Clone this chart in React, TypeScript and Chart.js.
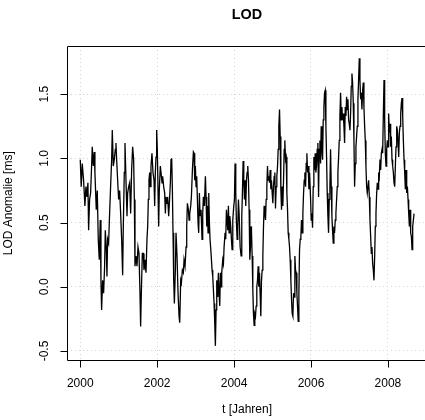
import React, { useEffect, useRef } from "react";
import { Chart, registerables } from "chart.js";

Chart.register(...registerables);

// ---- data ----
const years: number[] = [
  // 2000.0 - 2001.4
  2000.000, 2000.025, 2000.052, 2000.086, 2000.121, 2000.147, 2000.173, 2000.199, 2000.217, 2000.243,
  2000.269, 2000.295, 2000.312, 2000.338, 2000.364, 2000.381, 2000.416, 2000.442, 2000.468, 2000.494,
  2000.520, 2000.538, 2000.555, 2000.581, 2000.607, 2000.633, 2000.651, 2000.677, 2000.694, 2000.711,
  2000.737, 2000.763, 2000.789, 2000.816, 2000.833, 2000.859, 2000.885, 2000.911, 2000.928, 2000.946,
  2000.972, 2000.998, 2001.024, 2001.050, 2001.076, 2001.102, 2001.119, 2001.145, 2001.163, 2001.189,
  2001.215, 2001.232, 2001.258, 2001.284, 2001.310, 2001.336, 2001.362, 2001.388, 2001.406, 2001.423,
  // 2001.4 - 2002.9
  2001.449, 2001.475, 2001.501, 2001.527, 2001.553, 2001.570, 2001.588, 2001.614, 2001.640, 2001.657,
  2001.683, 2001.709, 2001.735, 2001.753, 2001.770, 2001.787, 2001.805, 2001.822, 2001.839, 2001.865,
  2001.891, 2001.918, 2001.935, 2001.952, 2001.970, 2001.987, 2002.004, 2002.022, 2002.039, 2002.056,
  2002.082, 2002.100, 2002.126, 2002.143, 2002.169, 2002.195, 2002.213, 2002.230, 2002.256, 2002.273,
  2002.299, 2002.317, 2002.343, 2002.360, 2002.378, 2002.395, 2002.412, 2002.430, 2002.447, 2002.473,
  2002.490, 2002.516, 2002.543, 2002.569, 2002.586, 2002.612, 2002.629, 2002.655, 2002.681, 2002.699,
  2002.725, 2002.751, 2002.768, 2002.786, 2002.812, 2002.829, 2002.846, 2002.872, 2002.890, 2002.916,
  2002.942,
  // 2002.9 - 2004.4
  2002.959, 2002.976, 2002.993, 2003.011, 2003.028, 2003.046, 2003.063, 2003.080, 2003.098, 2003.115,
  2003.141, 2003.167, 2003.184, 2003.202, 2003.228, 2003.254, 2003.271, 2003.289, 2003.306, 2003.323,
  2003.341, 2003.358, 2003.375, 2003.401, 2003.428, 2003.445, 2003.462, 2003.480, 2003.497, 2003.514,
  2003.532, 2003.549, 2003.575, 2003.592, 2003.610, 2003.627, 2003.645, 2003.662, 2003.679, 2003.705,
  2003.723, 2003.740, 2003.766, 2003.783, 2003.801, 2003.818, 2003.836, 2003.853, 2003.870, 2003.888,
  2003.914, 2003.931, 2003.948, 2003.966, 2003.992, 2004.009, 2004.026, 2004.044, 2004.061, 2004.079,
  2004.096, 2004.113, 2004.131, 2004.157, 2004.183, 2004.200, 2004.217, 2004.235, 2004.252, 2004.270,
  2004.287, 2004.304, 2004.322, 2004.339, 2004.356, 2004.374, 2004.391, 2004.409, 2004.426, 2004.443,
  // 2004.4 - 2006.0
  2004.452, 2004.470, 2004.487, 2004.504, 2004.522, 2004.539, 2004.557, 2004.574, 2004.591, 2004.609,
  2004.626, 2004.643, 2004.661, 2004.678, 2004.695, 2004.713, 2004.730, 2004.748, 2004.765, 2004.782,
  2004.800, 2004.817, 2004.834, 2004.852, 2004.869, 2004.886, 2004.904, 2004.921, 2004.939, 2004.956,
  2004.973, 2004.991, 2005.008, 2005.025, 2005.043, 2005.060, 2005.077, 2005.095, 2005.112, 2005.130,
  2005.147, 2005.164, 2005.182, 2005.199, 2005.216, 2005.234, 2005.251, 2005.268, 2005.286, 2005.303,
  2005.320, 2005.338, 2005.355, 2005.373, 2005.390, 2005.407, 2005.425, 2005.442, 2005.459, 2005.477,
  2005.494, 2005.511, 2005.529, 2005.546, 2005.563, 2005.581, 2005.598, 2005.616, 2005.633, 2005.650,
  2005.668, 2005.685, 2005.702, 2005.720, 2005.737, 2005.754, 2005.772, 2005.789, 2005.807, 2005.824,
  2005.841, 2005.859, 2005.876, 2005.893, 2005.911, 2005.928, 2005.946, 2005.963,
  // 2006.0 - 2007.5
  2005.971, 2005.988, 2006.006, 2006.023, 2006.041, 2006.058, 2006.075, 2006.093, 2006.110, 2006.127,
  2006.145, 2006.162, 2006.179, 2006.197, 2006.214, 2006.232, 2006.249, 2006.266, 2006.284, 2006.301,
  2006.318, 2006.336, 2006.353, 2006.370, 2006.388, 2006.405, 2006.422, 2006.440, 2006.457, 2006.475,
  2006.492, 2006.509, 2006.527, 2006.544, 2006.561, 2006.579, 2006.596, 2006.613, 2006.631, 2006.648,
  2006.666, 2006.683, 2006.700, 2006.718, 2006.735, 2006.752, 2006.770, 2006.787, 2006.804, 2006.822,
  2006.839, 2006.857, 2006.874, 2006.891, 2006.909, 2006.926, 2006.943, 2006.961, 2006.978, 2006.995,
  2007.013, 2007.030, 2007.047, 2007.065, 2007.082, 2007.100, 2007.117, 2007.134, 2007.152, 2007.169,
  2007.186, 2007.204, 2007.221, 2007.238, 2007.256, 2007.273, 2007.291, 2007.308, 2007.325, 2007.343,
  2007.360, 2007.377, 2007.395, 2007.412, 2007.429, 2007.447, 2007.464,
  // 2007.5 - 2008.7
  2007.482, 2007.499, 2007.517, 2007.534, 2007.552, 2007.569, 2007.586, 2007.604, 2007.621, 2007.638,
  2007.656, 2007.673, 2007.690, 2007.708, 2007.725, 2007.743, 2007.760, 2007.777, 2007.795, 2007.812,
  2007.829, 2007.847, 2007.864, 2007.881, 2007.899, 2007.916, 2007.933, 2007.951, 2007.968, 2007.986,
  2008.003, 2008.020, 2008.038, 2008.055, 2008.072, 2008.090, 2008.107, 2008.124, 2008.142, 2008.159,
  2008.177, 2008.194, 2008.211, 2008.229, 2008.246, 2008.263, 2008.281, 2008.298, 2008.315, 2008.333,
  2008.350, 2008.367, 2008.385, 2008.402, 2008.420, 2008.437, 2008.454, 2008.472, 2008.489, 2008.507,
  2008.524, 2008.541, 2008.559, 2008.576, 2008.593, 2008.611, 2008.628, 2008.645, 2008.663, 2008.680,
];

const lod: number[] = [
  // 2000.0 - 2001.4
  0.99, 0.78, 0.96, 0.83, 0.63, 0.78, 0.70, 0.81, 0.44, 0.68,
  0.73, 0.94, 1.09, 0.94, 1.05, 0.89, 0.60, 0.75, 0.37, 0.21,
  0.52, 0.05, -0.18, 0.05, -0.05, 0.16, 0.44, 0.29, 0.08, 0.37,
  0.34, 0.57, 0.78, 0.99, 1.22, 0.94, 0.99, 1.07, 1.12, 0.99,
  0.83, 0.68, 0.75, 0.57, 0.37, 0.09, 0.47, 0.89, 1.12, 0.83,
  0.55, 0.73, 0.78, 0.81, 0.57, 0.91, 1.09, 0.99, 0.68, 0.16,
  // 2001.4 - 2002.9
  0.24, 0.16, 0.31, 0.26, -0.05, -0.31, -0.05, 0.26, 0.26, 0.13,
  0.21, 0.11, 0.37, 0.47, 0.68, 0.83, 0.89, 0.78, 0.94, 1.04,
  0.89, 0.83, 0.63, 0.89, 1.01, 1.22, 1.07, 0.76, 0.47, 0.76,
  0.94, 0.89, 0.81, 0.86, 0.78, 0.73, 0.57, 0.70, 0.65, 0.70,
  0.55, 0.65, 0.81, 0.99, 1.00, 0.76, 0.42, 0.05, -0.13, 0.13,
  0.42, 0.24, -0.05, -0.23, -0.28, 0.05, 0.03, 0.13, 0.11, 0.21,
  0.16, 0.31, 0.47, 0.65, 0.60, 0.52, 0.57, 0.63, 0.70, 0.91,
  1.05,
  // 2002.9 - 2004.4
  1.04, 0.83, 0.94, 0.78, 0.86, 0.68, 0.50, 0.42, 0.73, 0.55,
  0.60, 0.37, 0.57, 0.70, 0.63, 0.86, 0.70, 0.47, 0.63, 0.42,
  0.73, 0.50, 0.37, 0.26, 0.13, 0.08, -0.02, -0.13, -0.28, -0.46,
  -0.18, 0.05, -0.08, 0.11, -0.05, -0.15, 0.11, 0.00, 0.11, 0.21,
  0.18, 0.31, 0.42, 0.37, 0.60, 0.52, 0.44, 0.63, 0.42, 0.55,
  0.47, 0.37, 0.29, 0.52, 0.63, 0.68, 0.96, 0.73, 0.50, 0.37,
  0.47, 0.68, 0.57, 0.31, 0.24, 0.55, 0.73, 0.98, 0.83, 0.68,
  0.83, 0.63, 0.83, 0.89, 0.94, 0.83, 0.60, 0.21, 0.31, 0.47,
  // 2004.4 - 2006.0
  0.44, 0.24, -0.02, -0.21, -0.30, -0.21, -0.23, -0.15, 0.00, 0.05,
  0.16, 0.00, 0.11, -0.05, -0.23, 0.05, 0.13, 0.24, 0.47, 0.63,
  0.57, 0.52, 0.68, 0.78, 0.94, 0.83, 0.86, 0.81, 0.91, 0.76,
  0.83, 0.73, 0.65, 0.78, 0.86, 0.89, 0.61, 0.78, 0.86, 0.94,
  1.07, 1.25, 1.38, 1.17, 0.76, 0.60, 0.78, 0.63, 0.83, 1.07,
  1.14, 0.99, 1.01, 0.73, 0.60, 0.42, 0.37, 0.31, 0.21, 0.05,
  -0.10, -0.21, -0.23, -0.05, -0.08, 0.24, 0.13, 0.11, -0.05, -0.15,
  -0.27, -0.05, 0.29, 0.37, 0.39, 0.52, 0.42, 0.57, 0.73, 0.83,
  0.89, 0.78, 0.96, 1.04, 0.89, 0.94, 0.76, 0.89,
  // 2006.0 - 2007.5
  0.89, 0.70, 0.52, 0.57, 0.46, 0.78, 1.01, 0.91, 1.04, 0.89,
  0.94, 1.07, 1.12, 0.70, 1.07, 1.14, 0.96, 1.25, 1.07, 0.99,
  1.30, 1.40, 1.51, 1.53, 1.25, 1.01, 0.73, 0.55, 0.42, 0.68,
  0.78, 1.07, 0.78, 0.55, 0.44, 0.34, 0.47, 0.42, 0.52, 0.57,
  0.68, 0.78, 0.89, 1.01, 1.14, 1.33, 1.51, 1.30, 1.40, 1.30,
  1.35, 1.25, 1.12, 1.40, 1.33, 1.48, 1.38, 1.46, 1.30, 1.27,
  1.22, 1.35, 1.56, 1.66, 1.59, 1.43, 1.14, 0.78, 0.96, 1.09,
  1.17, 1.25, 1.46, 1.61, 1.78, 1.61, 1.46, 1.51, 1.38, 1.53,
  1.59, 1.40, 1.25, 1.14, 0.94, 0.78, 0.73,
  // 2007.5 - 2008.7
  0.73, 0.83, 0.70, 0.52, 0.39, 0.26, 0.31, 0.18, 0.13, 0.05,
  0.24, 0.47, 0.57, 0.73, 0.81, 0.76, 0.89, 0.86, 0.99, 0.91,
  1.04, 1.07, 1.04, 1.33, 1.61, 1.30, 1.04, 0.94, 1.07, 1.14,
  1.09, 1.35, 1.20, 1.27, 1.09, 1.17, 0.99, 0.94, 0.89, 0.81,
  0.78, 0.94, 1.09, 1.25, 1.22, 1.14, 1.01, 1.20, 1.25, 1.35,
  1.43, 1.47, 1.33, 1.14, 0.99, 0.89, 0.76, 0.91, 0.73, 0.78,
  0.68, 0.57, 0.47, 0.60, 0.42, 0.39, 0.29, 0.47, 0.52, 0.57,
];

const xTicks = [2000, 2002, 2004, 2006, 2008];
const xTickLabels = ["2000", "2002", "2004", "2006", "2008"];
const yTicks = [-0.5, 0, 0.5, 1.0, 1.5];
const yTickLabels = ["-0.5", "0.0", "0.5", "1.0", "1.5"];
const xRange = [1999.655, 2009.03];
const yRange = [-0.574, 1.875];
const titleText = "LOD";
const xTitleText = "t [Jahren]";
const yTitleText = "LOD Anomalie [ms]";

const FONT = '"Liberation Sans", Arial, Helvetica, sans-serif';

const rAxesPlugin = {
  id: "rAxes",
  afterDraw(chart: any) {
    const { ctx, chartArea, scales } = chart;
    const { left, top, right, bottom } = chartArea;
    const xs = scales.x;
    const ys = scales.y;
    ctx.save();
    ctx.strokeStyle = "#000";
    ctx.lineWidth = 1;
    const L = Math.floor(left) + 0.5;
    const T = Math.floor(top) + 0.5;
    const B = Math.floor(bottom) + 0.5;
    const R = Math.floor(right) + 0.5;
    ctx.beginPath();
    ctx.moveTo(R, T);
    ctx.lineTo(L, T);
    ctx.lineTo(L, B);
    ctx.lineTo(R, B);
    ctx.stroke();
    // tick marks
    ctx.beginPath();
    xTicks.forEach((v) => {
      const px = Math.round(xs.getPixelForValue(v)) + 0.5;
      ctx.moveTo(px, B);
      ctx.lineTo(px, B + 7);
    });
    yTicks.forEach((v) => {
      const py = Math.round(ys.getPixelForValue(v)) + 0.5;
      ctx.moveTo(L, py);
      ctx.lineTo(L - 7, py);
    });
    ctx.stroke();
    // tick labels
    ctx.fillStyle = "#000";
    ctx.font = `12px ${FONT}`;
    ctx.textAlign = "center";
    ctx.textBaseline = "middle";
    xTicks.forEach((v, i) => {
      ctx.fillText(xTickLabels[i], xs.getPixelForValue(v), 384);
    });
    yTicks.forEach((v, i) => {
      ctx.save();
      ctx.translate(44.5, ys.getPixelForValue(v));
      ctx.rotate(-Math.PI / 2);
      ctx.fillText(yTickLabels[i], 0, 0);
      ctx.restore();
    });
    // axis titles
    ctx.fillText(xTitleText, 247, 410);
    ctx.save();
    ctx.translate(9, (top + bottom) / 2);
    ctx.rotate(-Math.PI / 2);
    ctx.fillText(yTitleText, 0, 0);
    ctx.restore();
    // main title
    ctx.font = `bold 14.4px ${FONT}`;
    ctx.fillText(titleText, 247, 15);
    ctx.restore();
  },
};

export default function App() {
  const canvasRef = useRef<HTMLCanvasElement | null>(null);

  useEffect(() => {
    document.body.style.margin = "0";
    const canvas = canvasRef.current;
    if (!canvas) return;
    const points = years.map((t, i) => ({ x: t, y: lod[i] }));
    const chart = new Chart(canvas, {
      type: "line",
      data: {
        datasets: [
          {
            data: points,
            borderColor: "#000",
            borderWidth: 1.3,
            pointRadius: 0,
            fill: false,
            tension: 0,
          },
        ],
      },
      options: {
        animation: false,
        responsive: false,
        devicePixelRatio: 1,
        layout: { padding: { left: 67, top: 46, right: 0.5, bottom: 59.5 } },
        plugins: {
          legend: { display: false },
          tooltip: { enabled: false },
          title: { display: false },
        },
        scales: {
          x: {
            type: "linear",
            min: xRange[0],
            max: xRange[1],
            afterBuildTicks: (scale: any) => {
              scale.ticks = xTicks.map((v) => ({ value: v }));
            },
            ticks: { display: false },
            grid: { color: "#d3d3d3", lineWidth: 1, drawTicks: false },
            border: { display: false, dash: [1, 3] },
          },
          y: {
            type: "linear",
            min: yRange[0],
            max: yRange[1],
            afterBuildTicks: (scale: any) => {
              scale.ticks = yTicks.map((v) => ({ value: v }));
            },
            ticks: { display: false },
            grid: { color: "#d3d3d3", lineWidth: 1, drawTicks: false },
            border: { display: false, dash: [1, 3] },
          },
        },
      },
      plugins: [rAxesPlugin],
    });
    return () => chart.destroy();
  }, []);

  return (
    <div
      style={{
        position: "absolute",
        left: 0,
        top: 0,
        width: 425,
        height: 420,
        overflow: "hidden",
        background: "#fff",
      }}
    >
      <canvas
        ref={canvasRef}
        width={428}
        height={420}
        style={{ width: 428, height: 420, display: "block" }}
      />
    </div>
  );
}
